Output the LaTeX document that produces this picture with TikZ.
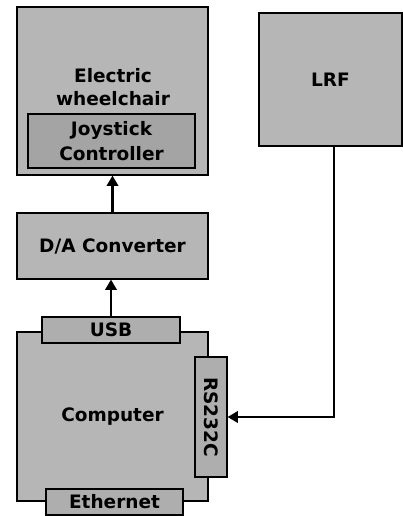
\documentclass[tikz,border=0pt]{standalone}
\usepackage{fontspec}
\setmainfont{DejaVu Sans}
\usepackage{tikz}
\usetikzlibrary{arrows.meta,positioning}
\usepackage{xcolor}
\definecolor{boxgray}{RGB}{182,182,182}
\definecolor{joygray}{RGB}{164,164,164}
\definecolor{portgray}{RGB}{174,174,174}

\begin{document}
\begin{tikzpicture}[x=1pt,y=-1pt,
  lbl/.style={align=center,font=\bfseries\fontsize{18.5}{23}\selectfont},
  box/.style={draw,line width=1.2pt,fill=boxgray,inner sep=0pt,lbl},
  port/.style={box,fill=portgray},
  arr/.style={-{Triangle[length=3.6mm,width=4mm]},line width=2.2pt}
]
\useasboundingbox (0,0) rectangle (402,516);
\node[box,minimum width=191pt,minimum height=168pt] (wheelchair) at (112.5,91) {};
\node[lbl] (wclabel) at (113,87) {Electric\\wheelchair};
\node[box,fill=joygray,minimum width=167pt,minimum height=54pt,
  font=\bfseries\fontsize{18.5}{25}\selectfont] (joystick) at (111.5,141) {Joystick\\Controller};
\node[box,minimum width=143pt,minimum height=133pt] (lrf) at (330.5,79.5) {LRF};
\node[box,minimum width=191pt,minimum height=66pt] (da) at (112.5,246) {D/A Converter};
\node[box,minimum width=191pt,minimum height=169pt] (computer) at (112.5,416.5) {Computer};
\node[port,minimum width=138pt,minimum height=26pt] (usb) at (111,330) {USB};
\node[port,minimum width=120pt,minimum height=32pt,rotate=-90] (rs) at (211,417) {RS232C};
\node[port,minimum width=137pt,minimum height=26pt] (ethernet) at (114.5,502) {Ethernet};
\draw[arr] (da.north -| wheelchair.south) -- (wheelchair.south);
\draw[arr] (usb.north) -- (usb.north |- da.south);
\draw[arr] ([xshift=3.5pt]lrf.south) |- (rs.north);
\end{tikzpicture}
\end{document}
